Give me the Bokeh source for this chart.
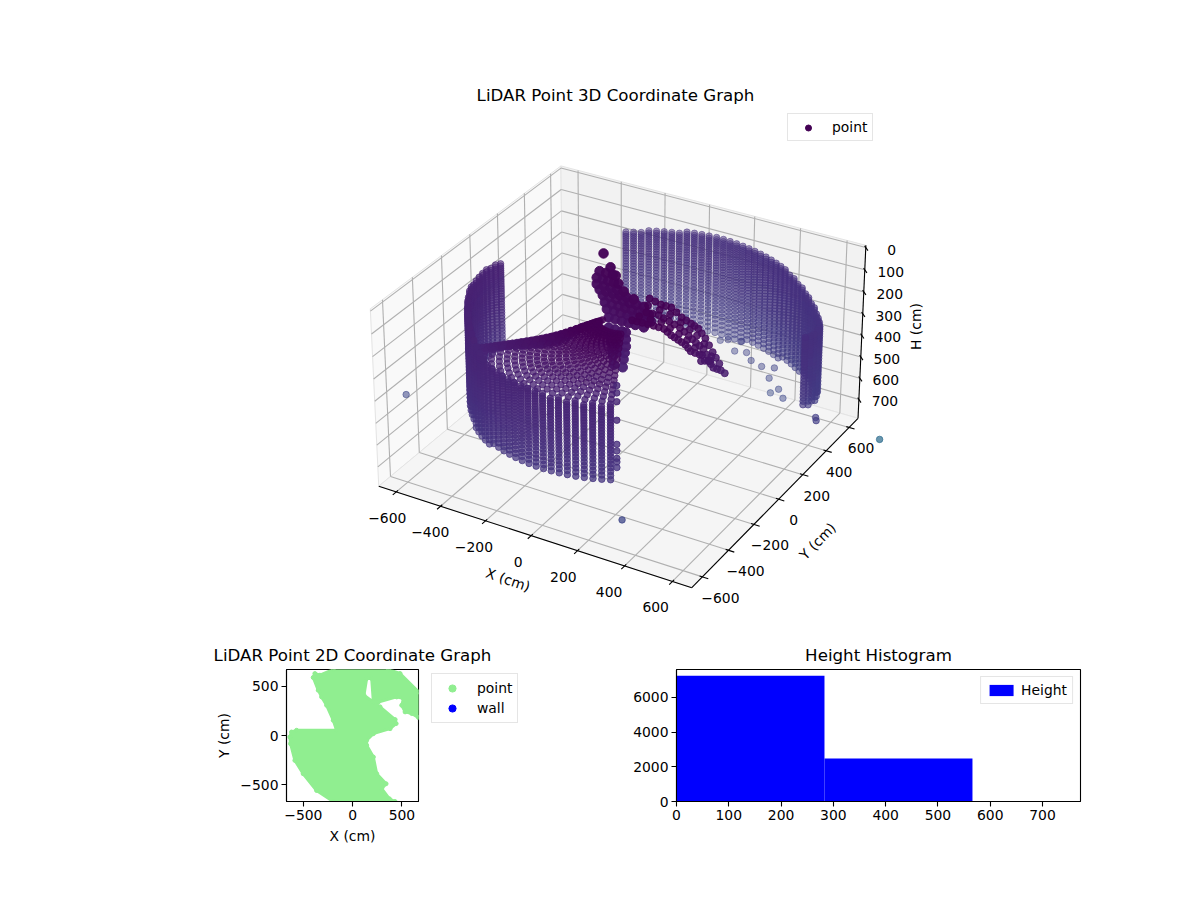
import numpy as np
from bokeh.plotting import figure
from bokeh.layouts import column, row
from bokeh.models import Range1d, Legend, LegendItem, FixedTicker, ColumnDataSource
from bokeh.core.properties import value
from bokeh.palettes import Viridis256
from bokeh.transform import linear_cmap
from bokeh.embed import file_html
from bokeh.resources import INLINE

FONT = "DejaVu Sans"
TITLE_3D = "LiDAR Point 3D Coordinate Graph"
TITLE_2D = "LiDAR Point 2D Coordinate Graph"
TITLE_H = "Height Histogram"

XY_TICKS = [-600, -400, -200, 0, 200, 400, 600]
H_TICKS = [0, 100, 200, 300, 400, 500, 600, 700]
XY_LIM = 680
H_TOP, H_BOTTOM = -10, 790

# scan levels (cm below the sensor)
H_LEVELS = [96,106,116,126,136,146,156,166,176,186,196,206,217,228,239,250,262,274,286,298,311,324,337,350,
            364,378,392,407,422,437,453,469,486,503,521,540,560,581,603,626]

# front wall columns
FRONT_ANGLE = [174,177.2,180.4,183.6,186.8,190,193.2,196.4,199.6,202.8,206,209.2,212.4,215.6,218.8,222,225.2,228.4,
               231.6,234.8,238,241.2,244.4,247.6,250.8,254,257.2,260.4,263.6,266.8,270,273.2,276.4,279.6,282.8,286,
               289.2,292.4,295.6]
FRONT_RADIUS = 585
FRONT_TOP = [118,115,110,106,103,100,98,97,96,96,98,102,108,117,128,140,152,164,174,182,192,198,202,204,205,206,206,206,
             206,206,208,208,208,208,208,208,210,210,212]
FRONT_BOTTOM = [510,510,515,520,525,528,530,535,538,540,542,544,545,545,550,555,558,562,565,565,564,560,556,552,
                550,548,546,545,545,546,548,550,550,550,548,546,544,542,540]

# sloping fan between sensor and front wall: alternate columns use the two ring sets
FAN_CENTRE_H = 190
FAN_EDGE_H = [510,495,480,465,450,432,414,396,378,360,340,320,300,282,265,248,232,218,205,205,205,205,205,205,
              205,205,205,205,205,205,205,205,205,205,205,205,205,205,205]
FAN_RADII = [585,552,519,486,453,420,387,350,312,274,236,198,160,125,95]
FAN_DEPTH = [1.0,.96,.92,.88,.84,.80,.76,.71,.65,.57,.46,.33,.22,.14,.08]
FAN_RADII_B = [568,535,502,469,436,403,368,331,293,255,217,179,142,110]
FAN_DEPTH_B = [.98,.94,.90,.86,.82,.78,.735,.68,.61,.515,.395,.275,.18,.11]

# back wall columns
BACK_ANGLE = [119,116.5,114,111.5,109,106.5,104,101.5,99,96.5,94,91.5,89,86.5,84,81.5,79,76.5,74,71.5,
              69,66.5,64,61.5,59,56.5,54,51.5,49,46.5,44,41.5,39,36.5,34,31.5,29,26.5,24,21.5,19,16.5]
BACK_RADIUS = [700,700,700,700,702,704,706,708,710,712,714,716,720,720,720,720,720,720,720,720,
               720,720,720,720,720,722,724,726,730,732,734,736,740,742,744,745,745,740,735,725,715,700]
BACK_TOP = [172,170,168,166,164,162,160,158,156,154,152,150,148,148,148,149,149,150,150,151,
            152,153,154,155,156,160,164,168,174,180,186,192,196,198,200,200,198,192,186,178,170,165]
BACK_BOTTOM = [590,590,590,590,590,595,598,600,604,606,608,610,610,610,608,606,604,602,600,596,
               594,590,586,582,578,574,570,566,560,556,552,546,540,536,532,526,520,514,508,500,492,485]

# loose returns below the back wall
LOOSE_X = [38,75,108,142,168,193,250,323,294,304,352,381,740,745,286,286,286,286,286,286,286,286,286]
LOOSE_Y = [719,716,712,706,700,693,675,643,657,652,628,611,170,165,-539,-539,-539,-539,-539,-539,-539,-539,-539]
LOOSE_H = [633,617,660,600,643,670,672,640,705,770,725,750,490,500,108,140,178,259,365,394,427,443,468]

# dense cluster near the sensor: one list of x per height row, all at y = 200
CLUSTER_Y = 200
CLUSTER_H = [40,94,125,158,187,209,231,260,289,325,372,404,437,468,500,538]
CLUSTER_X = [[-201],[-170],[-219,-190,-160,-147],[-232,-205,-180,-155,-135],[-232,-200,-170,-140,-112],
             [-219,-190,-160,-130,-100,-67],[-205,-175,-145,-115,-85,-55,-22],[-196,-165,-135,-105,-75,-45,-15,0],
             [-187,-155,-125,-95,-65,-35,-5,10],[-179,-150,-120,-90,-60,-22],[-179,-150,-120,-102],[-174,-145,-102],
             [-170,-135,-102],[-165,-130,-107],[-160,-112],[-156,-116]]

# ridge running from the sensor towards +x, all at y = 60
ARM_Y = 60
ARM_X = [6,51,100,145,176,207,238,261,299,306,337,359,391,408,82,131,176,221,261,292,323,355,384,68,122,167,214,252,283,315,346,
         75,126,171,217,256,287,319,350,37,86,133,171,210,245,280,310,340,
         106,153,198,241,276,307,339,369,95,144,190,233,267,299,330,28,75,122,160,191,222,250,280,322,348,375]
ARM_H = [214,212,211,212,231,243,256,278,281,309,298,323,325,333,94,107,107,138,154,167,202,254,297,160,157,171,187,211,233,252,295,
         127,132,139,162,182,200,227,274,187,185,185,201,215,233,256,280,300,
         100,107,122,146,160,184,228,275,158,164,179,199,222,242,273,213,211,211,221,237,249,267,280,303,310,324]

# isolated points: x, y, H, colour value
ISO_X = [-800,320,1030]
ISO_Y = [-300,-560,120]
ISO_H = [610,680,470]
ISO_C = [1000,1000,1500]

# 2D footprint outline
FOOT_X = [-637,-620,-569,-163,-197,-264,-315,-349,-400,-383,-332,-197,363,481,668,668,600,532,498,515,447,261,210,193,142,115,278,431,441,380,210,142,142,210,244,339,295,373,430,-197,-366,-502,-586,-630]
FOOT_Y = [-14,37,54,54,156,308,393,461,590,630,613,671,671,630,444,183,224,241,308,376,393,342,342,580,580,410,292,163,122,71,20,-47,-98,-217,-386,-488,-539,-641,-668,-668,-556,-386,-251,-81]

# histogram
HIST_LEFT = [0, 283, 566]
HIST_RIGHT = [283, 566, 849]
HIST_COUNT = [7250, 2480, 0]
HIST_X_TICKS = [0,100,200,300,400,500,600,700]
HIST_Y_TICKS = [0,2000,4000,6000]

# ---------- 3D projection (elevation 30, azimuth -60, squat box) ----------
BOX = np.array([4.,4.,2.25]) * 1.8294640721620434*25/24/np.linalg.norm([4,4,3])
el, az = np.radians(30), np.radians(-60)
W = np.array([np.cos(el)*np.cos(az), np.cos(el)*np.sin(az), np.sin(el)])
EYE = BOX/2 + 10*W
U = np.cross([0,0,1], W); U /= np.linalg.norm(U)
V = np.cross(W, U)

def view(x, y, h):
    x, y, h = np.asarray(x,float), np.asarray(y,float), np.asarray(h,float)
    bx = (x+XY_LIM)/(2*XY_LIM)*BOX[0] - EYE[0]
    by = (y+XY_LIM)/(2*XY_LIM)*BOX[1] - EYE[1]
    bz = (H_BOTTOM-h)/(H_BOTTOM-H_TOP)*BOX[2] - EYE[2]
    xv = bx*U[0]+by*U[1]+bz*U[2]
    yv = bx*V[0]+by*V[1]+bz*V[2]
    zv = bx*W[0]+by*W[1]+bz*W[2]
    return xv/(-zv), yv/(-zv), zv

# frame of the box as it sits on the page, used to place the projection
L = XY_LIM
FRAME_3D = [(-L,-L,H_BOTTOM,378,485),(L,-L,H_BOTTOM,691,587),(L,L,H_BOTTOM,857,419),(-L,L,H_BOTTOM,563,333),
            (-L,-L,H_TOP,370,308),(-L,L,H_TOP,560,165),(L,L,H_TOP,866,245)]
_f = np.array(FRAME_3D, float)
_xn, _yn, _ = view(_f[:,0], _f[:,1], _f[:,2])
SX = np.linalg.lstsq(np.c_[_xn, np.ones(7)], _f[:,3], rcond=None)[0]
SY = np.linalg.lstsq(np.c_[_yn, np.ones(7)], _f[:,4], rcond=None)[0]

def project(x, y, h):
    a, b, d = view(x, y, h)
    return SX[0]*a+SX[1], SY[0]*b+SY[1], d

def seg(x0,y0,h0,x1,y1,h1):
    a0,b0,_ = project(x0,y0,h0); a1,b1,_ = project(x1,y1,h1)
    return [float(a0),float(a1)], [float(b0),float(b1)]

# ---------- assemble point cloud ----------
xs, ys, hs = [], [], []
for ang, top_h, bot in zip(FRONT_ANGLE, FRONT_TOP, FRONT_BOTTOM):
    t = np.radians(ang)
    for h in H_LEVELS:
        if top_h <= h <= bot:
            xs.append(FRONT_RADIUS*np.cos(t)); ys.append(FRONT_RADIUS*np.sin(t)); hs.append(h)
for i, (ang, edge) in enumerate(zip(FRONT_ANGLE, FAN_EDGE_H)):
    t = np.radians(ang)
    rings = zip(FAN_RADII, FAN_DEPTH) if i % 2 == 0 else zip(FAN_RADII_B, FAN_DEPTH_B)
    for r, d in rings:
        xs.append(r*np.cos(t)); ys.append(r*np.sin(t)); hs.append(FAN_CENTRE_H+(edge-FAN_CENTRE_H)*d)
for ang, r, top_h, bot in zip(BACK_ANGLE, BACK_RADIUS, BACK_TOP, BACK_BOTTOM):
    t = np.radians(ang)
    for h in H_LEVELS:
        if top_h <= h <= bot:
            xs.append(r*np.cos(t)); ys.append(r*np.sin(t)); hs.append(h)
xs += LOOSE_X; ys += LOOSE_Y; hs += LOOSE_H
n_plain = len(xs)
for h, row_x in zip(CLUSTER_H, CLUSTER_X):
    for x in row_x:
        xs.append(x); ys.append(CLUSTER_Y); hs.append(h)
n_cluster = len(xs)
xs += ARM_X; ys += [ARM_Y]*len(ARM_X); hs += ARM_H
xs, ys, hs = np.array(xs,float), np.array(ys,float), np.array(hs,float)
cs = np.sqrt(xs**2+ys**2+hs**2)
xs = np.r_[xs, ISO_X]; ys = np.r_[ys, ISO_Y]; hs = np.r_[hs, ISO_H]; cs = np.r_[cs, ISO_C]
px, py, depth = project(xs, ys, hs)
# depth shading: far points fade; the close cluster and ridge stay almost solid
alpha = 0.42+0.4*(depth-depth.min())/(depth.max()-depth.min())
sizes = np.full(len(xs), 6.5)
alpha[n_plain:n_cluster] = 0.97; sizes[n_plain:n_cluster] = 9.5
alpha[n_cluster:n_cluster+len(ARM_X)] = 0.85; sizes[n_cluster:n_cluster+len(ARM_X)] = 7
order = np.argsort(depth)  # far first

# ---------- top figure (also carries the titles of the two lower graphs) ----------
top = figure(width=1100, height=666, x_range=Range1d(0,1100), y_range=Range1d(666,0),
             output_backend="svg", toolbar_location=None, min_border=0)
top.axis.visible = False
top.grid.visible = False
top.outline_line_color = None

def pane(corners, color):
    a,b,_ = project([c[0] for c in corners],[c[1] for c in corners],[c[2] for c in corners])
    top.patch(a.tolist(), b.tolist(), fill_color=color, line_color="#e4e4e4", line_width=1)
pane([(-L,-L,H_BOTTOM),(-L,L,H_BOTTOM),(-L,L,H_TOP),(-L,-L,H_TOP)], "#f9f9f9")
pane([(-L,L,H_BOTTOM),(L,L,H_BOTTOM),(L,L,H_TOP),(-L,L,H_TOP)], "#f2f2f2")
pane([(-L,-L,H_BOTTOM),(L,-L,H_BOTTOM),(L,L,H_BOTTOM),(-L,L,H_BOTTOM)], "#f5f5f5")

gx, gy = [], []
for t in XY_TICKS:
    for s in (seg(t,-L,H_BOTTOM,t,L,H_BOTTOM), seg(t,L,H_BOTTOM,t,L,H_TOP),
              seg(-L,t,H_BOTTOM,L,t,H_BOTTOM), seg(-L,t,H_BOTTOM,-L,t,H_TOP)):
        gx.append(s[0]); gy.append(s[1])
for t in H_TICKS:
    for s in (seg(-L,-L,t,-L,L,t), seg(-L,L,t,L,L,t)):
        gx.append(s[0]); gy.append(s[1])
top.multi_line(gx, gy, line_color="#b0b0b0", line_width=1.1)

ax, ay = [], []
for s in (seg(-L,-L,H_BOTTOM,L,-L,H_BOTTOM), seg(L,-L,H_BOTTOM,L,L,H_BOTTOM), seg(L,L,H_BOTTOM,L,L,H_TOP)):
    ax.append(s[0]); ay.append(s[1])
for t in XY_TICKS:
    for s in (seg(t,-L-24,H_BOTTOM,t,-L+12,H_BOTTOM), seg(L+24,t,H_BOTTOM,L-12,t,H_BOTTOM)):
        ax.append(s[0]); ay.append(s[1])
for t in H_TICKS:
    s = seg(L+18,L-18,t,L-10,L+10,t)
    ax.append(s[0]); ay.append(s[1])
top.multi_line(ax, ay, line_color="black", line_width=1.1)

cloud = ColumnDataSource(dict(x=px[order], y=py[order], c=cs[order], a=alpha[order], s=sizes[order]))
top.scatter("x", "y", size="s", line_width=1,
            color=linear_cmap("c", Viridis256, 250, 3800), fill_alpha="a", line_alpha="a",
            source=cloud)

def labels(fig, x, y, text, size="13.9px", angle=0.0, color="black"):
    fig.text(x, y, text=text, text_font=value(FONT), text_font_size=size, text_color=color,
             text_align="center", text_baseline="middle", angle=angle)

def num(t):
    return str(t).replace("-", "\u2212")

tx, ty, _ = project(XY_TICKS, [-L]*7, [H_BOTTOM]*7)
labels(top, (tx-9-1.3*np.arange(7)).tolist(), (ty+26).tolist(), [num(t) for t in XY_TICKS])
tx, ty, _ = project([L]*7, XY_TICKS, [H_BOTTOM]*7)
labels(top, (tx+18-1.0*np.arange(7)).tolist(), (ty+21).tolist(), [num(t) for t in XY_TICKS])
tx, ty, _ = project([L]*8, [L]*8, H_TICKS)
labels(top, (tx+26).tolist(), (ty+2).tolist(), [num(t) for t in H_TICKS])

tx, ty, _ = project([0],[-L],[H_BOTTOM])
labels(top, (tx-23).tolist(), (ty+44).tolist(), ["X (cm)"], angle=-0.33)
tx, ty, _ = project([L],[0],[H_BOTTOM])
labels(top, (tx+39).tolist(), (ty+42).tolist(), ["Y (cm)"], angle=0.8)
tx, ty, _ = project([L],[L],[350])
labels(top, (tx+54).tolist(), (ty+2).tolist(), ["H (cm)"], angle=np.pi/2)
labels(top, [615], [95], [TITLE_3D], size="16.67px")
labels(top, [352], [655], [TITLE_2D], size="16.67px")
labels(top, [878], [655], [TITLE_H], size="16.67px")

key3d = top.scatter(x=[float("nan")], y=[float("nan")], size=7, fill_color="#440154", line_color="#440154")
leg3d = Legend(items=[LegendItem(label="point", renderers=[key3d])], location=(787, 525),
               label_text_font=FONT, label_text_font_size="13.9px", label_text_color="black",
               glyph_width=30, glyph_height=15, label_standoff=9,
               padding=5, spacing=2, border_line_color="#cccccc", background_fill_alpha=0.8, margin=0)
top.add_layout(leg3d, "center")

# ---------- common axes style ----------
def style(fig, xticks, yticks):
    fig.grid.visible = False
    fig.outline_line_color = "black"
    fig.outline_line_width = 1.1
    for a in fig.axis:
        a.axis_label_text_font = FONT
        a.axis_label_text_font_size = "13.9px"
        a.axis_label_text_font_style = "normal"
        a.axis_label_text_color = "black"
        a.major_label_text_font = FONT
        a.major_label_text_font_size = "13.9px"
        a.major_label_text_color = "black"
        a.axis_line_width = 1.1
        a.major_tick_line_width = 1.1
        a.major_tick_in = 0
        a.major_tick_out = 5
        a.minor_tick_line_color = None
        a.major_label_standoff = 3
    fig.xaxis.ticker = FixedTicker(ticks=xticks)
    fig.yaxis.ticker = FixedTicker(ticks=yticks)

# ---------- 2D footprint ----------
left = figure(width=427, height=194, x_range=Range1d(-671,668), y_range=Range1d(-668,671),
              output_backend="svg", toolbar_location=None,
              x_axis_label="X (cm)", y_axis_label="Y (cm)",
              min_border_left=286, min_border_right=9, min_border_top=3, min_border_bottom=59)
style(left, [-500,0,500], [-500,0,500])
for a in (left.xaxis[0], left.yaxis[0]):
    a.major_label_overrides = {-500:"\u2212500", 0:"0", 500:"500"}
left.patch(FOOT_X, FOOT_Y, fill_color="lightgreen", line_color="lightgreen", line_width=3, line_join="round")
left.scatter(FOOT_X, FOOT_Y, size=4, color="lightgreen")

# the legend of the 2D graph sits in its own strip next to the frame
strip = figure(width=193, height=194, x_range=Range1d(0,1), y_range=Range1d(0,1),
               output_backend="svg", toolbar_location=None, min_border=0)
strip.axis.visible = False
strip.grid.visible = False
strip.outline_line_color = None
key_p = strip.scatter(x=[float("nan")], y=[float("nan")], size=8, color="lightgreen")
key_w = strip.scatter(x=[float("nan")], y=[float("nan")], size=8, color="blue")
leg2d = Legend(items=[LegendItem(label="point", renderers=[key_p]), LegendItem(label="wall", renderers=[key_w])],
               location="top_left", label_text_font=FONT, label_text_font_size="13.9px", label_text_color="black",
               glyph_width=30, glyph_height=18, label_standoff=10, padding=5, spacing=2,
               border_line_color="#cccccc", margin=4)
strip.add_layout(leg2d, "center")

# ---------- histogram ----------
right = figure(width=480, height=194, x_range=Range1d(0,772.6), y_range=Range1d(0,7612),
               output_backend="svg", toolbar_location=None,
               min_border_left=56, min_border_right=20, min_border_top=3, min_border_bottom=59)
style(right, HIST_X_TICKS, HIST_Y_TICKS)
bars = right.quad(left=HIST_LEFT, right=HIST_RIGHT, top=HIST_COUNT, bottom=0, fill_color="blue", line_color=None)
leg_h = Legend(items=[LegendItem(label="Height", renderers=[bars])], location="top_right",
               label_text_font=FONT, label_text_font_size="13.9px", label_text_color="black",
               glyph_width=30, glyph_height=14, padding=5, border_line_color="#cccccc", margin=7)
right.add_layout(leg_h, "center")

page = column(top, row(left, strip, right), spacing=0)
open("out.html", "w").write(file_html(page, INLINE))
